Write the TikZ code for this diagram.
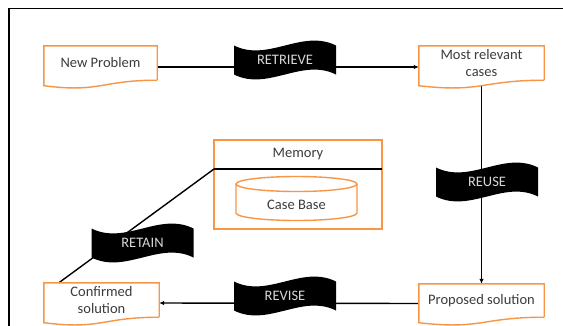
\documentclass[tikz,border=0pt]{standalone}
\usepackage{fontspec}
\setmainfont{Carlito}
\usetikzlibrary{calc,arrows.meta}
\definecolor{docorange}{RGB}{247,150,70}
\definecolor{labgray}{RGB}{215,215,215}
\definecolor{txt}{RGB}{60,60,60}
\tikzset{
  docline/.style={draw=docorange, line width=1.4pt},
  docbox/.style={inner sep=0pt, align=center, text=txt},
  conn/.style={draw=black, line width=1.4pt},
  arr/.style={conn, -{Latex[length=5pt,width=4.5pt]}},
  bannertext/.style={inner sep=0pt, text=labgray},
  frameline/.style={draw=black, line width=1.4pt}
}
\newcommand\docoutline[1]{%
  \draw[docline] (#1.south east) -- (#1.north east) -- (#1.north west) -- ($(#1.south west)+(0,5.5)$)
    .. controls ($(#1.south)+(0,12.8)$) and ($(#1.south)+(0,0)$) .. (#1.south east);}
\newcommand\wavebanner[3]{%
  \fill[black] ($(#2)+(-51,-14.5)$) .. controls +(34,17) and +(-34,-17) .. ($(#2)+(51,-14.5)$)
    -- ($(#2)+(51,14.5)$) .. controls +(-34,-17) and +(34,17) .. ($(#2)+(-51,14.5)$) -- cycle;
  \node[bannertext] (#1) at (#2) {#3};}
\begin{document}
\begin{tikzpicture}[x=1pt,y=-1pt,font=\fontsize{14.5}{17}\selectfont]
\useasboundingbox (0,0) rectangle (563,325);
\clip (0,0) rectangle (563,325);
\fill[white] (0,0) rectangle (563,325);
% frame
\draw[frameline] (9,340) -- (9,8.5) -- (580,8.5);
% document nodes
\node[docbox, minimum width=113pt, minimum height=34pt] (np) at (100.5,63) {New Problem};
\node[docbox, minimum width=125pt, minimum height=34pt] (mr) at (481.5,63) {Most relevant\\cases};
\node[docbox, minimum width=125pt, minimum height=33pt] (ps) at (481.5,300.5) {Proposed solution};
\node[docbox, minimum width=115pt, minimum height=34pt] (cs) at (101.5,300) {Confirmed\\solution};
% memory
\node[draw=docorange, line width=1.4pt, minimum width=168pt, minimum height=89pt, inner sep=0pt] (mem) at (298,184.5) {};
\node[docbox] (memlab) at (298,154.5) {Memory};
\coordinate (divL) at (214,169);
\coordinate (divR) at (382,169);
\draw[conn] (divL) -- (divR);
\draw[docline] (236,184) -- (236,213) arc[start angle=180, end angle=360, x radius=60.5pt, y radius=7.5pt] -- (357,184);
\draw[docline] (296.5,184) ellipse [x radius=60.5pt, y radius=7.5pt];
\node[docbox] (cb) at (296.5,205) {Case Base};
% connectors
\draw[arr] ([yshift=-4pt]np.east) -- ([yshift=-4pt]mr.west);
\draw[arr] ([yshift=-5pt]mr.south) -- (ps.north);
\draw[arr] ([yshift=-3pt]ps.west) -- ([yshift=-3pt]cs.east);
\draw[conn] ([xshift=15pt]cs.north west) -- (divL);
% document outlines
\docoutline{np}
\docoutline{mr}
\docoutline{ps}
\docoutline{cs}
% banners
\wavebanner{retrieve}{285,60}{RETRIEVE}
\wavebanner{reuse}{487,182}{REUSE}
\wavebanner{retain}{142.5,243}{RETAIN}
\wavebanner{revise}{285,296}{REVISE}
\end{tikzpicture}
\end{document}
